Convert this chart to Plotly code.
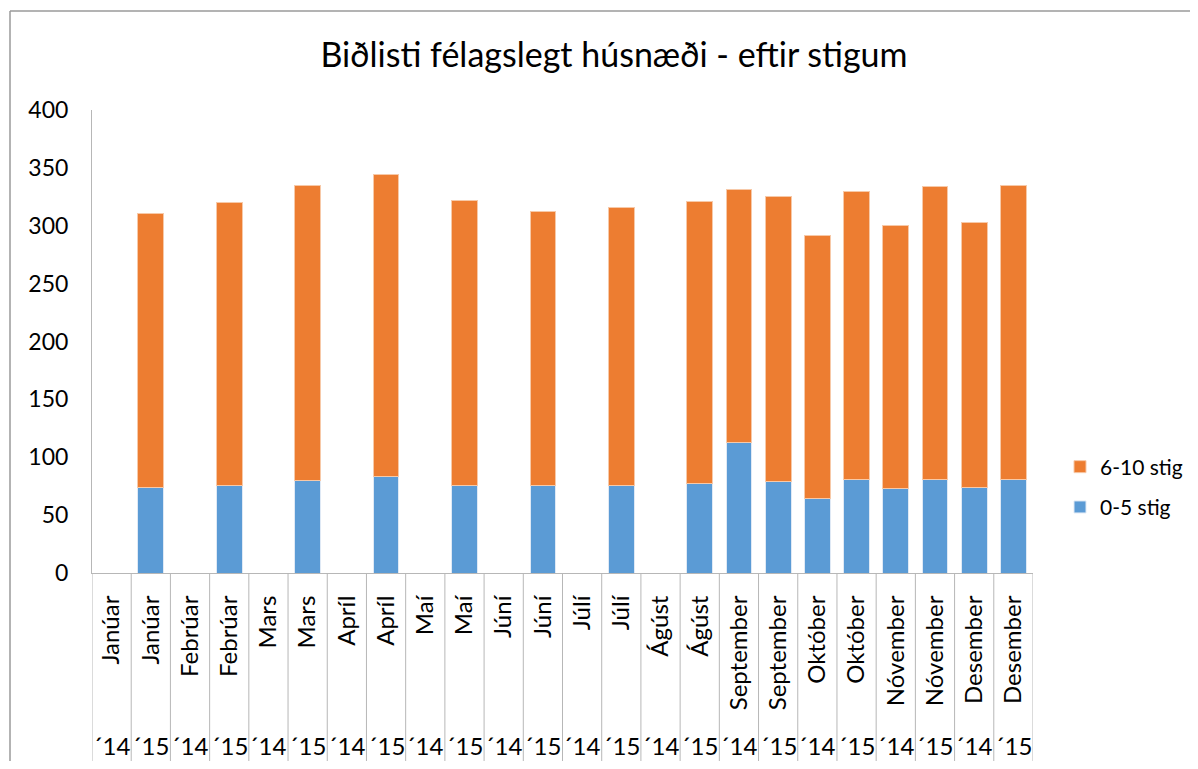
import plotly.graph_objects as go

months = ["Janúar", "Febrúar", "Mars", "Apríl", "Maí", "Júní", "Júlí", "Ágúst",
          "September", "Október", "Nóvember", "Desember"]
years = ["´14", "´15"]

# values in order: month x year (´14, ´15)
low_0_5 = [None, 74, None, 76, None, 80, None, 83, None, 76, None, 76, None, 76, None, 77,
           113, 79, 64, 81, 73, 81, 74, 81]
high_6_10 = [None, 237, None, 244, None, 255, None, 261, None, 246, None, 236, None, 240, None, 244,
             218, 246, 228, 249, 227, 253, 229, 254]

cat_month = [m for m in months for _ in years]
cat_year = [y for _ in months for y in years]
cats = [f"{m} {y}" for m, y in zip(cat_month, cat_year)]

FONT = "Lato, 'Open Sans', sans-serif"
GREY = "#b7b7b7"

fig = go.Figure()
fig.add_trace(go.Bar(x=cats, y=low_0_5, name="0-5 stig", legendgroup="a", legendrank=2,
                     marker=dict(color="#5B9BD5", line=dict(color="#dfe9f5", width=1))))
fig.add_trace(go.Bar(x=cats, y=high_6_10, name="6-10 stig", legendgroup="b", legendrank=1,
                     marker=dict(color="#ED7D31", line=dict(color="#f7c9a8", width=1))))

# page has 8px body margin; work in page pixels and convert
OFF = 8
W, H = 1198 - 2 * OFF, 769 - 2 * OFF
L, R, T, B = 92 - OFF, 1033 - OFF, 110 - OFF, 573 - OFF
pw, ph = R - L, B - T

def px_x(p):
    return (p - OFF - L) / pw

def px_y(p):
    return (B - (p - OFF)) / ph

shapes = []
for i in range(len(cats) + 1):
    shapes.append(dict(type="line", xref="x", yref="paper", x0=i - 0.5, x1=i - 0.5,
                       y0=0, y1=px_y(764), line=dict(color=GREY, width=1)))
# outer chart border (top & left visible)
shapes.append(dict(type="line", xref="paper", yref="paper", x0=px_x(10), x1=px_x(1250),
                   y0=px_y(11), y1=px_y(11), line=dict(color="#9a9a9a", width=1.5)))
shapes.append(dict(type="line", xref="paper", yref="paper", x0=px_x(10), x1=px_x(10),
                   y0=px_y(11), y1=px_y(800), line=dict(color="#9a9a9a", width=1.5)))

annotations = []
for c, y in zip(cats, cat_year):
    annotations.append(dict(x=c, xref="x", y=px_y(745), yref="paper", text=y,
                            showarrow=False, xanchor="center", yanchor="middle",
                            font=dict(family=FONT, size=24, color="#000")))

fig.update_layout(
    width=W, height=H,
    margin=dict(l=L, r=W - R, t=T, b=H - B, pad=0, autoexpand=False),
    paper_bgcolor="white", plot_bgcolor="white",
    barmode="stack", bargap=0.344,
    title=dict(text="Biðlisti félagslegt húsnæði - eftir stigum",
               x=((318 + 910) / 2 - OFF) / W,
               xanchor="center", y=1 - (55 - OFF) / H, yanchor="middle",
               font=dict(family=FONT, size=34, color="#000")),
    font=dict(family=FONT, size=23, color="#000"),
    legend=dict(xref="container", yref="container",
                x=(1060 - OFF) / W, xanchor="left", y=1 - (487 - OFF) / H, yanchor="middle",
                traceorder="grouped", tracegroupgap=10,
                font=dict(family=FONT, size=21),
                itemwidth=30, bgcolor="rgba(0,0,0,0)"),
    shapes=shapes, annotations=annotations,
)
fig.update_xaxes(type="category", categoryorder="array", categoryarray=cats,
                 tickmode="array", tickvals=cats, ticktext=cat_month, tickangle=-90,
                 showline=True, linecolor=GREY, linewidth=1, ticks="", showgrid=False,
                 tickfont=dict(family=FONT, size=24), ticklabelstandoff=12,
                 range=[-0.5, len(cats) - 0.5])
fig.update_yaxes(range=[0, 400], dtick=50, showline=True, linecolor=GREY, linewidth=1,
                 showgrid=False, zeroline=False, ticks="", tickfont=dict(family=FONT, size=23),
                 ticklabelstandoff=18)

fig.write_html("out.html")
